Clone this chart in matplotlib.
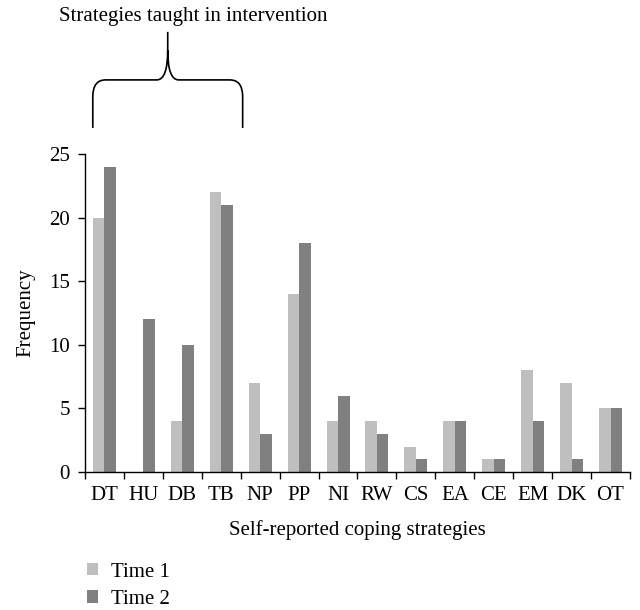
import matplotlib
matplotlib.use("Agg")
import matplotlib.pyplot as plt
import numpy as np
from matplotlib.path import Path
from matplotlib.patches import PathPatch
from matplotlib.transforms import blended_transform_factory

categories = ["DT", "HU", "DB", "TB", "NP", "PP", "NI", "RW", "CS", "EA", "CE", "EM", "DK", "OT"]
time1 = [20, 0, 4, 22, 7, 14, 4, 4, 2, 4, 1, 8, 7, 5]
time2 = [24, 12, 10, 21, 3, 18, 6, 3, 1, 4, 1, 4, 1, 5]
series_labels = ["Time 1", "Time 2"]
yticks = [0, 5, 10, 15, 20, 25]

plt.rcParams['font.family'] = ['Liberation Serif', 'DejaVu Serif']
FS = 15
plt.rcParams['font.size'] = FS

fig = plt.figure(figsize=(6.4, 6.1), dpi=100)
ax = fig.add_axes([85/640, (610-472)/610, (630-85)/640, (472-154)/610])

x = np.arange(len(categories))
w = 0.295
b1 = ax.bar(x - w/2, time1, w, color="#BFBFBF", label=series_labels[0])
b2 = ax.bar(x + w/2, time2, w, color="#808080", label=series_labels[1])

ax.set_xlim(-0.5, len(categories) - 0.5)
ax.set_ylim(0, 25)
ax.set_yticks(yticks)
ax.set_xticks(x)
ax.set_xticklabels(categories)
ax.tick_params(axis='x', length=0, pad=10, labelsize=FS)
ax.set_xticks(np.arange(-0.5, len(categories), 1.0), minor=True)
ax.tick_params(axis='x', which='minor', length=5, direction='out', width=1)
ax.tick_params(axis='y', length=5, direction='out', width=1, labelsize=FS, pad=6)
for s in ["top", "right"]:
    ax.spines[s].set_visible(False)
ax.spines["left"].set_linewidth(1)
ax.spines["bottom"].set_linewidth(1)

ax.set_ylabel("Frequency", fontsize=FS, labelpad=10)
ax.set_xlabel("Self-reported coping strategies", fontsize=FS, labelpad=11)

# brace over the strategies taught in intervention
trans = blended_transform_factory(ax.transData, ax.transAxes)
L, R = -0.3, 3.55
C = (L + R) / 2
y0, yh, yp = 1.082, 1.233, 1.384
dxc, dyc = 0.33, 0.053
dxm, dym = 0.28, 0.094
verts = [
    (L, y0), (L, yh - dyc), (L, yh), (L + dxc, yh), (C - dxm, yh), (C, yh), (C, yh + dym), (C, yp),
    (R, y0), (R, yh - dyc), (R, yh), (R - dxc, yh), (C + dxm, yh), (C, yh), (C, yh + dym),
]
codes = [
    Path.MOVETO, Path.LINETO, Path.CURVE3, Path.CURVE3, Path.LINETO, Path.CURVE3, Path.CURVE3, Path.LINETO,
    Path.MOVETO, Path.LINETO, Path.CURVE3, Path.CURVE3, Path.LINETO, Path.CURVE3, Path.CURVE3,
]
brace = PathPatch(Path(verts, codes), facecolor='none', edgecolor='black', lw=1.2,
                  transform=trans, clip_on=False)
ax.add_patch(brace)
fig.text(193/640, 1 - 16/610, "Strategies taught in intervention", ha='center', va='center', fontsize=FS)

leg = fig.legend(handles=[b1, b2], labels=series_labels, loc='upper left',
                 bbox_to_anchor=(72/640, 1 - 548/610), frameon=False, fontsize=FS,
                 handlelength=0.55, handleheight=0.55, handletextpad=0.6, labelspacing=0.4,
                 borderpad=0.2)

fig.savefig("out.png", dpi=100)
